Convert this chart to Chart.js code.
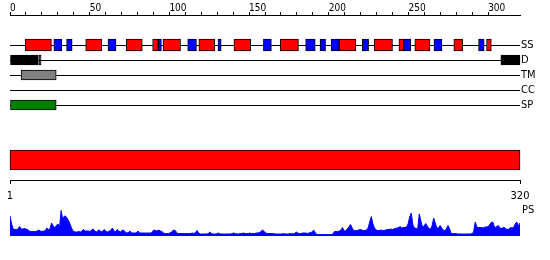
<!DOCTYPE html>
<html><head><meta charset="utf-8">
<script src="https://cdn.jsdelivr.net/npm/chart.js@4"></script>
<style>
html,body{margin:0;padding:0;background:#fff;}
#wrap{position:relative;width:550px;height:260px;overflow:hidden;background:#fff;}
canvas{position:absolute;left:0;}
</style></head><body>
<div id="wrap">
<canvas id="tracks" width="550" height="115" style="top:0px"></canvas>
<canvas id="seq" width="550" height="65" style="top:140px"></canvas>
<canvas id="prof" width="550" height="60" style="top:200px"></canvas>
</div>
<script>
// ---- data ----
const seqLength = 320;
const topTickLabels = [0, 50, 100, 150, 200, 250, 300];
const trackNames = ['SS', 'D', 'TM', 'CC', 'SP'];
const helices = [[9.5,26],[47.5,57.5],[73,83],[89.5,93],[96,107],[118.5,128.5],[140.5,151],[169.5,181],[206.5,217],[228.5,240],[244,247],[254,263.5],[278.5,284],[299,302]];
const strands = [[27.5,32.5],[35.5,39],[61.5,66.5],[93,95],[111.5,117],[130.5,132.5],[159,164],[185.5,191.5],[194.5,198],[201.5,206.5],[221,225],[247,251.5],[266,271],[294,297.5]];
const domains = [[0,17.8],[18.3,19.5],[308,320]];
const transmembrane = [[7,29]];
const coiledCoil = [];
const signalPeptide = [[0,29]];
const endLabels = [1, 320];
const profileName = 'PS';
const profile = [
 20,12,7,6.5,6.5,7,9.5,7,7,7.5,
 7,6.5,5,4.5,4.5,4.5,4.5,5,6,5,
 4.5,5,5,8,6.5,7,13,10,8,10.5,
 12,9,25.5,16,20,19.5,17,14,10,6,
 4.5,4,4,4.5,4,5,6.5,5,5,5,
 4.5,6,7,5,4,5.5,6,4,5,6.5,
 4.5,4,5,5.5,8,5,4,6.5,5,4,
 5.5,6,4,3,3.5,5,3,3,3,3,
 5,3,3,3,3,3,3,3,3,4,
 6,5.5,5,6,5,4.5,3,2.5,2.5,2.5,
 3,4,5.5,6,4,2.5,2.5,2.5,2.5,2.5,
 2.5,2.5,2.5,2.5,3,2.5,3.5,5.5,3,2,
 2,2,2,2,2.5,4,2.5,2,2,2,
 3,2.5,2,2,2,2,2,2,2,2.5,
 3,2.5,2,2,2.5,2.5,3,2.5,2.5,2.5,
 3,2.5,2.5,2.5,3,3,3.5,4.5,6,4.5,
 3,2.5,2.5,2.5,2.5,2.5,2,2,2,2,
 2,2.5,2,2,2,2.5,2.5,2,2.5,4,
 3,2.5,2.5,3,3,3,2.5,3,3.5,4,
 6,3,1.5,1.5,1.5,1.5,1.5,1.5,1.5,1.5,
 1.5,1.5,2,4.5,4.5,4.5,5,6,8.5,5,
 5.5,7,9,11.5,8,5.5,5.5,5.5,6,6.5,
 6,5.5,5.5,6,8,14,19.5,12,8,6,
 5.5,5.5,6,5.5,5.5,6,6.5,6.5,7,6.5,
 7,7.5,8,8.5,9.5,8,8.5,8.5,9,12,
 19,23,11,8,7.5,7,22,15,9,10,
 12.5,10,7.5,7,10,18,13,8,8,10.5,
 8,6,5.5,7,10.5,7,2.5,2.5,2.5,2.5,
 2,2,2,2,2,2,2,2,2,2.5,
 4,14,9,8.5,8.5,8.5,8,9,9,9.5,
 11,13.5,14,9,8.5,10.5,9.5,7,8,8.5,
 7.5,6.5,7,8.5,8,8.5,12,14,10,13
];

// ---- drawing ----
Chart.defaults.font.family = "'DejaVu Sans Condensed','DejaVu Sans',sans-serif";
Chart.defaults.color = '#000';
const noPlug = {legend:{display:false}, tooltip:{enabled:false}};
function seg(list, row){ return list.map(r => ({x: r, y: row})); }
const barBase = {borderColor:'#000', borderWidth:1, borderSkipped:false, grouped:false, clip:false};

new Chart(document.getElementById('tracks'), {
  type: 'bar',
  data: {
    labels: ['', ''].concat(trackNames),
    datasets: [
      {data: seg(helices,'SS'), backgroundColor:'#ff0000', barThickness:12},
      {data: seg(strands,'SS'), backgroundColor:'#0000ff', barThickness:12},
      {data: seg(domains,'D'), backgroundColor:'#000000', barThickness:10},
      {data: seg(transmembrane,'TM'), backgroundColor:'#808080', barThickness:10},
      {data: seg(coiledCoil,'CC'), backgroundColor:'#ffff00', barThickness:10},
      {data: seg(signalPeptide,'SP'), backgroundColor:'#008000', barThickness:10}
    ].map(d => Object.assign({}, barBase, d))
  },
  options: {
    indexAxis: 'y', responsive: false, animation: false,
    layout: {padding: {left: 10, right: 0, top: 0, bottom: 10}},
    plugins: noPlug,
    scales: {
      x: {
        type: 'linear', position: 'top', min: 0, max: seqLength,
        afterBuildTicks: s => { const t = []; for (let v = 0; v <= topTickLabels[topTickLabels.length-1]; v += 10) t.push({value: v}); s.ticks = t; },
        afterFit: s => { s.height = 15; },
        grid: {drawOnChartArea: false, drawTicks: true, tickLength: 3, color: '#000'},
        border: {display: true, color: '#000'},
        ticks: {autoSkip: false, maxRotation: 0, minRotation: 0, align: 'start', padding: -1,
                font: {size: 10, lineHeight: 1},
                callback: v => topTickLabels.includes(v) ? String(v) : ''}
      },
      y: {
        type: 'category', position: 'right', offset: false,
        afterFit: s => { s.width = 30; },
        grid: {offset: false, drawTicks: false, color: c => (c.tick && c.tick.label) ? '#000' : 'rgba(0,0,0,0)'},
        border: {display: false},
        ticks: {padding: 1, autoSkip: false, font: {size: 11}}
      }
    }
  }
});

new Chart(document.getElementById('seq'), {
  type: 'bar',
  data: {
    labels: ['sequence'],
    datasets: [Object.assign({}, barBase, {data: [{x: [endLabels[0], endLabels[1]], y: 'sequence'}], backgroundColor: '#ff0000', barThickness: 20})]
  },
  options: {
    indexAxis: 'y', responsive: false, animation: false,
    layout: {padding: {left: 10, right: 30, top: 0, bottom: 0}},
    plugins: noPlug,
    scales: {
      x: {
        type: 'linear', position: 'bottom', min: endLabels[0], max: endLabels[1],
        afterBuildTicks: s => { s.ticks = endLabels.map(v => ({value: v})); },
        afterFit: s => { s.height = 25; },
        grid: {drawOnChartArea: false, tickLength: 4, color: '#000'},
        border: {display: true, color: '#000'},
        ticks: {autoSkip: false, maxRotation: 0, minRotation: 0, padding: 6, font: {size: 11}}
      },
      y: {display: false}
    }
  }
});

new Chart(document.getElementById('prof'), {
  type: 'line',
  data: {
    datasets: [{
      data: profile.map((v, i) => ({x: i + 1, y: v})),
      borderColor: '#0000ff', backgroundColor: '#0000ff', borderWidth: 1,
      pointRadius: 0, fill: 'origin', tension: 0
    }]
  },
  options: {
    responsive: false, animation: false,
    layout: {padding: {left: 10, right: 0, top: 10, bottom: 24}},
    plugins: noPlug,
    scales: {
      x: {type: 'linear', display: false, min: endLabels[0], max: endLabels[1]},
      y: {
        position: 'right', min: 0, max: 26,
        afterBuildTicks: s => { s.ticks = [{value: 26}]; },
        afterFit: s => { s.width = 30; },
        grid: {display: false, drawTicks: false}, border: {display: false},
        ticks: {padding: 2, font: {size: 11}, callback: () => profileName}
      }
    }
  }
});
</script>
</body></html>
